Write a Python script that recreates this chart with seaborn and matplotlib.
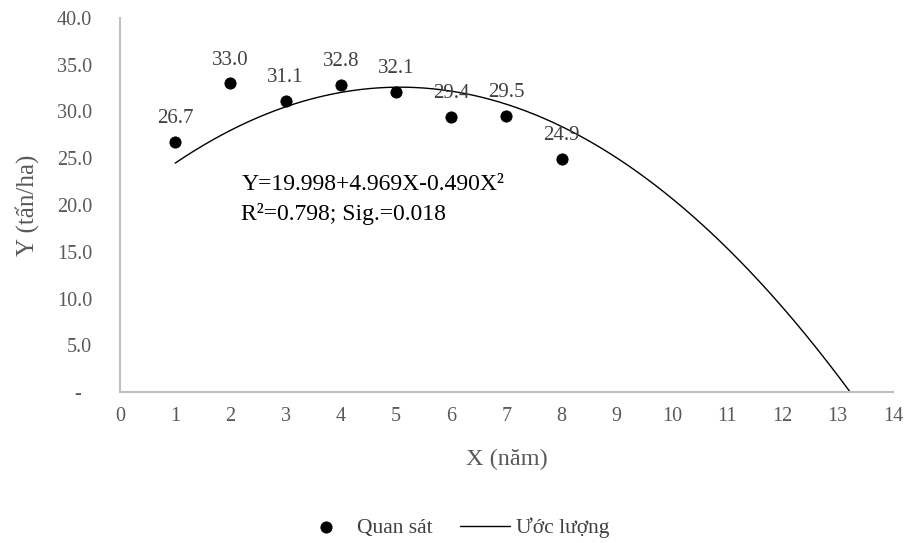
import numpy as np
import pandas as pd
import matplotlib
matplotlib.use("Agg")
import matplotlib.pyplot as plt
import seaborn as sns

# Observed data
years = [1, 2, 3, 4, 5, 6, 7, 8]
yields = [26.7, 33.0, 31.1, 32.8, 32.1, 29.4, 29.5, 24.9]
# Fitted equation coefficients (as printed on the chart)
b0, b1, b2 = 19.998, 4.969, -0.490
r2_text = "0.798"
sig_text = "0.018"
x_ticks = list(range(0, 15))
y_ticks = [0, 5, 10, 15, 20, 25, 30, 35, 40]
y_tick_labels = ["-  ", "5.0", "10.0", "15.0", "20.0", "25.0", "30.0", "35.0", "40.0"]

sns.set_style("white")
plt.rcParams['font.family'] = ['Liberation Serif', 'DejaVu Serif']

fig = plt.figure(figsize=(9.05, 5.43), dpi=100)
ax = fig.add_axes([0.1326, 0.278, 0.854, 0.689])

obs = pd.DataFrame({"X": years, "Y": yields})
xf = np.linspace(1, 13.5, 300)
fit = pd.DataFrame({"X": xf, "Y": np.polyval([b2, b1, b0], xf)})

sns.lineplot(data=fit, x="X", y="Y", ax=ax, color="black", linewidth=1.0,
             label="Ước lượng", zorder=2)
sns.scatterplot(data=obs, x="X", y="Y", ax=ax, color="black", s=65,
                edgecolor="black", label="Quan sát", zorder=3)

for xv, yv in zip(years, yields):
    ax.annotate(f"{yv:.1f}", (xv, yv), xytext=(0, 10), textcoords="offset points",
                ha="center", va="bottom", fontsize=15, color="#404040")

ax.text(2.2, 22.2, f"Y={b0:.3f}+{b1:.3f}X-{abs(b2):.3f}X²", fontsize=17, color="black",
        ha="left", va="center")
ax.text(2.2, 19.0, f"R²={r2_text}; Sig.={sig_text}", fontsize=17, color="black",
        ha="left", va="center")

ax.set_xlim(0, 14)
ax.set_ylim(0, 40)
ax.set_xticks(x_ticks)
ax.set_yticks(y_ticks)
ax.set_yticklabels(y_tick_labels)
ax.tick_params(axis="both", length=0, labelsize=14.5, labelcolor="#595959")
ax.tick_params(axis="x", pad=11)
ax.tick_params(axis="y", pad=20)
for s in ["top", "right"]:
    ax.spines[s].set_visible(False)
for s in ["left", "bottom"]:
    ax.spines[s].set_color("#BFBFBF")
    ax.spines[s].set_linewidth(1.5)

ax.set_xlabel("X (năm)", fontsize=17.5, color="#595959", labelpad=16)
ax.set_ylabel("Y (tấn/ha)", fontsize=18, color="#595959", labelpad=13)

handles, labels = ax.get_legend_handles_labels()
ax.get_legend().remove()
order = [labels.index("Quan sát"), labels.index("Ước lượng")]
fig.legend([handles[i] for i in order], [labels[i] for i in order],
           loc="center", bbox_to_anchor=(0.503, 0.028), ncol=2, frameon=False,
           fontsize=15.5, labelcolor="#404040", handlelength=2.3, columnspacing=1.3,
           handletextpad=0.3)

fig.savefig("out.png", dpi=100)
